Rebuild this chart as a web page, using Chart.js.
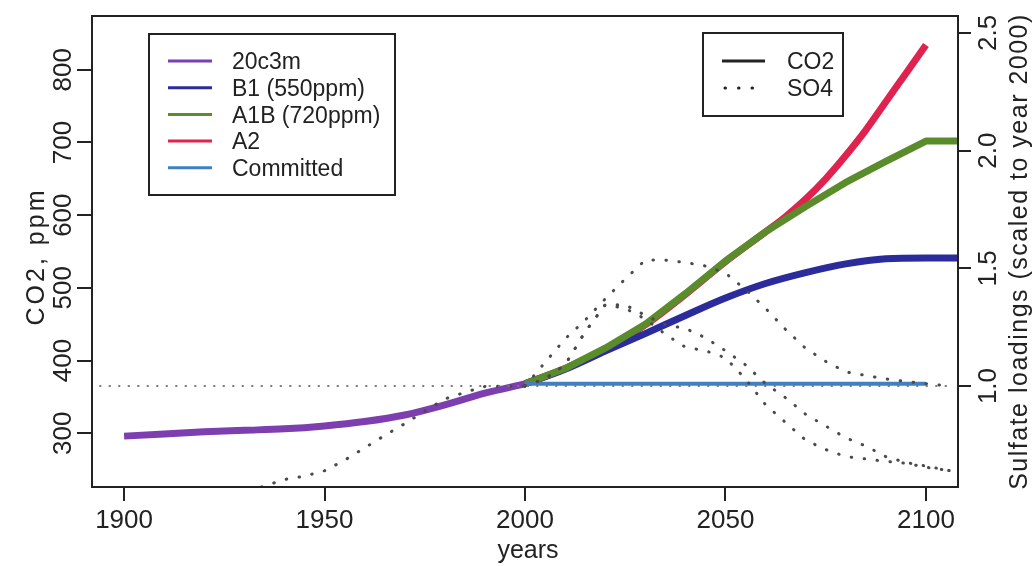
<!DOCTYPE html>
<html>
<head>
<meta charset="utf-8">
<script src="https://cdn.jsdelivr.net/npm/chart.js@4.4.1/dist/chart.umd.min.js"></script>
<style>
  html, body { margin: 0; padding: 0; background: #fff; }
  #wrap { width: 1035px; height: 566px; }
</style>
</head>
<body>
<div id="wrap"><canvas id="chart" width="1035" height="566"></canvas></div>
<script>
// CO2 concentration, ppm (left axis)
const histYears = [1900, 1910, 1920, 1930, 1940, 1950, 1960, 1970, 1980, 1990, 2000];
const co2Hist = [296, 299, 302, 304, 306, 310, 316, 325, 339, 355, 368];

const stabYears = [2000, 2010, 2020, 2030, 2040, 2050, 2060, 2070, 2080, 2090, 2100, 2108];
const co2B1 = [368, 388, 413, 437, 462, 486, 506, 521, 533, 540, 541, 541];
const co2A1B = [368, 389, 417, 450, 492, 537, 577, 612, 645, 674, 702, 702];
const a2Years = [2000, 2010, 2020, 2030, 2040, 2050, 2060, 2065, 2070, 2075, 2080, 2085, 2090, 2095, 2100];
const co2A2 = [368, 389, 416, 449, 491, 536, 577, 598, 622, 650, 682, 717, 756, 795, 834];
const commitYears = [2000, 2100];
const co2Commit = [368, 368];

// Sulfate loadings scaled to year 2000 (right axis)
const so4HistYears = [1925, 1935, 1940, 1945, 1950, 1955, 1960, 1965, 1970, 1975, 1980, 1985, 1990, 1995, 2000];
const so4Hist = [0.52, 0.575, 0.603, 0.617, 0.64, 0.685, 0.737, 0.79, 0.84, 0.893, 0.945, 0.973, 0.998, 1.0, 1.0];

const so4Years = [2000, 2005, 2010, 2015, 2020, 2025, 2030, 2035, 2040, 2045, 2050, 2055,
                  2060, 2065, 2070, 2075, 2080, 2085, 2090, 2095, 2100, 2106];
const so4Peak = [1.0, 1.10, 1.20, 1.28, 1.37, 1.455, 1.535, 1.535, 1.525, 1.51, 1.48, 1.41,
                 1.33, 1.24, 1.16, 1.105, 1.06, 1.045, 1.03, 1.02, 1.01, 1.0];
const so4Slow = [1.0, 1.03, 1.09, 1.23, 1.345, 1.345, 1.30, 1.26, 1.245, 1.205, 1.15, 1.09,
                 1.01, 0.95, 0.88, 0.83, 0.78, 0.745, 0.70, 0.675, 0.66, 0.64];
const so4Fast = [1.0, 1.03, 1.09, 1.23, 1.345, 1.33, 1.285, 1.22, 1.165, 1.15, 1.12, 1.03,
                 0.92, 0.845, 0.77, 0.73, 0.70, 0.69, 0.68, 0.672, 0.655, 0.64];
const refYears = [1894, 2106];
const refLevel = [1.0, 1.0];

// axes
const xTicks = [1900, 1950, 2000, 2050, 2100];
const co2Ticks = [300, 400, 500, 600, 700, 800];
const so4Ticks = [1.0, 1.5, 2.0, 2.5];

const scenarioNames = ['20c3m', 'B1 (550ppm)', 'A1B (720ppm)', 'A2', 'Committed'];
const scenarioColors = ['#7d3fb0', '#2b2b9c', '#5a8c2c', '#e0224f', '#4180c0'];
const typeNames = ['CO2', 'SO4'];

const FONT = '"Liberation Sans", Arial, Helvetica, sans-serif';
const INK = '#222';

function pts(xs, ys) {
  return xs.map((x, i) => ({ x: x, y: ys[i] }));
}

function co2Line(label, xs, ys, color, width, order, smooth) {
  return {
    label: label, data: pts(xs, ys), yAxisID: 'y',
    borderColor: color, borderWidth: width, pointRadius: 0,
    cubicInterpolationMode: smooth ? 'monotone' : 'default', tension: 0,
    borderJoinStyle: 'round', order: order
  };
}

function so4Line(label, xs, ys, color, width, gap) {
  return {
    label: label, data: pts(xs, ys), yAxisID: 'y2',
    borderColor: color, borderWidth: width, pointRadius: 0, tension: 0,
    borderDash: [0.5, gap], borderCapStyle: 'round', order: 0
  };
}

function rotText(ctx, text, x, y, size, spacing) {
  ctx.save();
  ctx.translate(x, y);
  ctx.rotate(-Math.PI / 2);
  ctx.font = size + 'px ' + FONT;
  ctx.letterSpacing = (spacing || 0) + 'px';
  ctx.textAlign = 'center';
  ctx.textBaseline = 'middle';
  ctx.fillStyle = INK;
  ctx.fillText(text, 0, 0);
  ctx.restore();
}

const rStyle = {
  id: 'rStyle',
  afterDraw(chart) {
    const ctx = chart.ctx;
    const a = chart.chartArea;
    const sx = chart.scales.x, sy = chart.scales.y, sy2 = chart.scales.y2;

    ctx.save();
    ctx.strokeStyle = INK;
    ctx.lineWidth = 2;
    ctx.strokeRect(a.left, a.top, a.right - a.left, a.bottom - a.top);

    // tick labels and titles
    ctx.fillStyle = INK;
    ctx.font = '26px ' + FONT;
    ctx.textAlign = 'center';
    ctx.textBaseline = 'middle';
    xTicks.forEach(v => ctx.fillText(String(v), sx.getPixelForValue(v), 521));
    ctx.font = '25px ' + FONT;
    ctx.fillText('years', (a.left + a.right) / 2 + 3, 551);
    co2Ticks.forEach(v => rotText(ctx, String(v), 64, sy.getPixelForValue(v), 26));
    so4Ticks.forEach(v => rotText(ctx, v.toFixed(1), 989, sy2.getPixelForValue(v), 26));
    rotText(ctx, 'CO2, ppm', 37, (a.top + a.bottom) / 2 + 5, 25, 3);
    rotText(ctx, 'Sulfate loadings (scaled to year 2000)', 1020, (a.top + a.bottom) / 2, 25, 1.5);

    // scenario legend
    ctx.fillStyle = '#fff';
    ctx.fillRect(149, 34, 246, 161);
    ctx.strokeStyle = INK;
    ctx.lineWidth = 2;
    ctx.strokeRect(149, 34, 246, 161);
    ctx.font = '23px ' + FONT;
    ctx.textAlign = 'left';
    scenarioNames.forEach((name, i) => {
      const y = 61 + i * 26.7;
      ctx.strokeStyle = scenarioColors[i];
      ctx.lineWidth = 3;
      ctx.beginPath();
      ctx.moveTo(168, y);
      ctx.lineTo(212, y);
      ctx.stroke();
      ctx.fillStyle = INK;
      ctx.fillText(name, 232, y + 2);
    });

    // line type legend
    ctx.fillStyle = '#fff';
    ctx.fillRect(703, 33, 140, 83);
    ctx.strokeStyle = INK;
    ctx.lineWidth = 2;
    ctx.strokeRect(703, 33, 140, 83);
    typeNames.forEach((name, i) => {
      const y = 61 + i * 27;
      ctx.strokeStyle = INK;
      ctx.lineWidth = 3;
      ctx.lineCap = i === 0 ? 'butt' : 'round';
      ctx.setLineDash(i === 0 ? [] : [0.5, 13]);
      ctx.beginPath();
      ctx.moveTo(i === 0 ? 722 : 725, y);
      ctx.lineTo(765, y);
      ctx.stroke();
      ctx.setLineDash([]);
      ctx.fillStyle = INK;
      ctx.fillText(name, 787, y + 2);
    });
    ctx.restore();
  }
};

new Chart(document.getElementById('chart'), {
  type: 'line',
  data: {
    datasets: [
      so4Line('SO4 ref', refYears, refLevel, '#7a7a7a', 2, 9),
      so4Line('SO4 20c3m', so4HistYears, so4Hist, '#4a4a4a', 3, 12.5),
      so4Line('SO4 peak', so4Years, so4Peak, '#4a4a4a', 3, 12.5),
      so4Line('SO4 slow', so4Years, so4Slow, '#4a4a4a', 3, 12.5),
      so4Line('SO4 fast', so4Years, so4Fast, '#4a4a4a', 3, 12.5),
      co2Line(scenarioNames[0], histYears, co2Hist, scenarioColors[0], 7, 1, true),
      co2Line(scenarioNames[4], commitYears, co2Commit, scenarioColors[4], 4, 2, false),
      co2Line(scenarioNames[2], stabYears, co2A1B, scenarioColors[2], 7, 3, false),
      co2Line(scenarioNames[1], stabYears, co2B1, scenarioColors[1], 7, 4, true),
      co2Line(scenarioNames[3], a2Years, co2A2, scenarioColors[3], 7, 5, true)
    ]
  },
  options: {
    responsive: false,
    animation: false,
    events: [],
    layout: { padding: { top: 16, left: 0, right: 0, bottom: 0 } },
    plugins: { legend: { display: false }, tooltip: { enabled: false } },
    scales: {
      x: {
        type: 'linear', min: 1892, max: 2108,
        ticks: { stepSize: 50, includeBounds: false, display: false },
        grid: { drawOnChartArea: false, tickLength: 14, tickColor: INK, lineWidth: 2 },
        border: { display: false },
        afterFit: s => { s.height = 79; }
      },
      y: {
        position: 'left', min: 226, max: 874,
        ticks: { stepSize: 100, includeBounds: false, display: false },
        grid: { drawOnChartArea: false, tickLength: 15, tickColor: INK, lineWidth: 2 },
        border: { display: false },
        afterFit: s => { s.width = 92; }
      },
      y2: {
        position: 'right', min: 0.571, max: 2.572,
        ticks: { stepSize: 0.5, includeBounds: false, display: false },
        grid: { drawOnChartArea: false, tickLength: 13, tickColor: INK, lineWidth: 2 },
        border: { display: false },
        afterFit: s => { s.width = 77; }
      }
    }
  },
  plugins: [rStyle]
});
</script>
</body>
</html>
